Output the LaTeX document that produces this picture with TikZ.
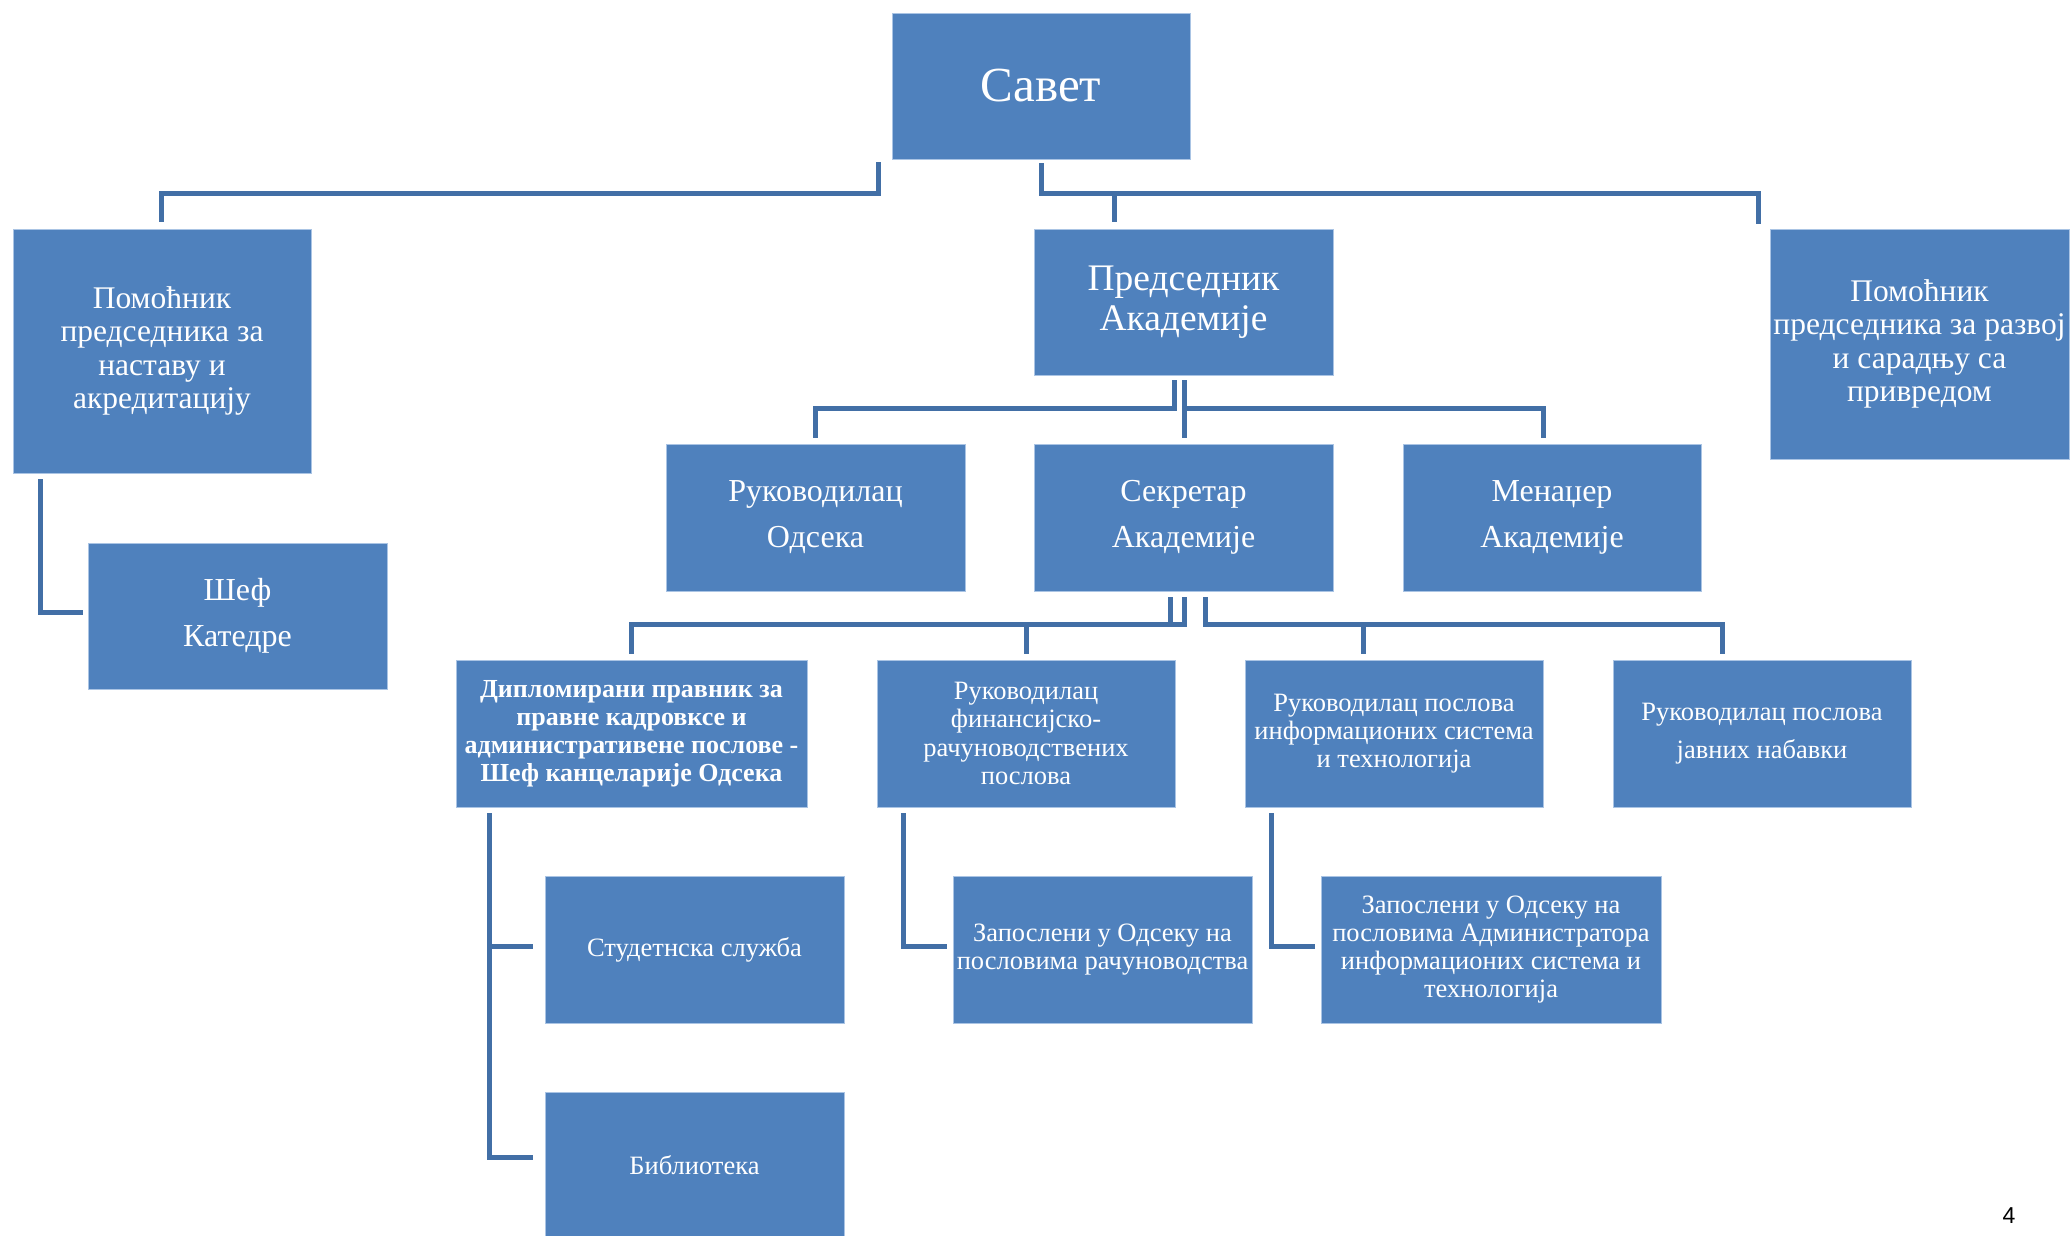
\documentclass[tikz,border=0pt]{standalone}
\usepackage{fontspec}
\setmainfont{Liberation Serif}
\newfontfamily\arialf{Liberation Sans}
\definecolor{boxblue}{RGB}{79,129,189}
\definecolor{boxedge}{RGB}{170,196,228}
\definecolor{linecol}{RGB}{66,111,166}
\tikzset{
  orgbox/.style={fill=boxblue, draw=boxedge, line width=1pt, text=white, inner sep=0pt, align=center},
  conn/.style={draw=linecol, line width=5pt, line cap=butt, line join=miter},
  fbig/.style={font=\fontsize{49}{53}\selectfont},
  fpred/.style={font=\fontsize{37.5}{40}\selectfont},
  fpom/.style={font=\fontsize{31.5}{33.5}\selectfont},
  frow/.style={font=\fontsize{32}{46}\selectfont},
  fsmall/.style={font=\fontsize{26.5}{28.3}\selectfont},
  fsmallbold/.style={font=\fontsize{26}{28}\selectfont\bfseries},
  fwide/.style={font=\fontsize{26.5}{38}\selectfont}
}
\begin{document}
\begin{tikzpicture}[x=1pt,y=-1pt]
\useasboundingbox (0,0) rectangle (2071,1235);
% boxes
\node[orgbox, fbig, minimum width=298, minimum height=146] (savet) at (1041,86) {Савет};
\node[orgbox, fpom, minimum width=298, minimum height=244] (pomL) at (162,351) {Помоћник\\председника за\\наставу и\\акредитацију};
\node[orgbox, fpred, minimum width=299, minimum height=146] (pred) at (1183.5,302) {Председник\\Академије};
\node[orgbox, fpom, minimum width=299, minimum height=230] (pomR) at (1919.5,344) {Помоћник\\председника за развој\\и сарадњу са\\привредом};
\node[orgbox, frow, minimum width=299, minimum height=147] (rukO) at (815.5,517.5) {Руководилац\\Одсека};
\node[orgbox, frow, minimum width=299, minimum height=147] (sekr) at (1183.5,517.5) {Секретар\\Академије};
\node[orgbox, frow, minimum width=298, minimum height=147] (men) at (1552,517.5) {Менаџер\\Академије};
\node[orgbox, frow, minimum width=299, minimum height=146] (shef) at (237.5,616) {Шеф\\Катедре};
\node[orgbox, fsmallbold, minimum width=351, minimum height=147] (dipl) at (631.5,733.5) {Дипломирани правник за\\правне кадровксе и\\административене послове -\\Шеф канцеларије Одсека};
\node[orgbox, fsmall, minimum width=298, minimum height=147] (fin) at (1026,733.5) {Руководилац\\финансијско-\\рачуноводствених\\послова};
\node[orgbox, fsmall, minimum width=298, minimum height=147] (is) at (1394,733.5) {Руководилац послова\\информационих система\\и технологија};
\node[orgbox, fwide, minimum width=298, minimum height=147] (jn) at (1762,733.5) {Руководилац послова\\јавних набавки};
\node[orgbox, fsmall, minimum width=299, minimum height=147] (stud) at (694.5,949.5) {Студетнска служба};
\node[orgbox, fsmall, minimum width=299, minimum height=147] (zrac) at (1102.5,949.5) {Запослени у Одсеку на\\пословима рачуноводства};
\node[orgbox, fsmall, minimum width=340, minimum height=147] (zadm) at (1491,949.5) {Запослени у Одсеку на\\пословима Администратора\\информационих система и\\технологија};
\node[orgbox, fsmall, minimum width=299, minimum height=146] (bib) at (694.5,1165) {Библиотека};
\node[font=\arialf\fontsize{23}{25}\selectfont, inner sep=0pt] (pnum) at (2009,1216) {4};
% connector end points
\coordinate (sA) at (878,162);
\coordinate (sB) at (1041,163);
\coordinate (jP) at (1114,193);
\coordinate (inPomL) at (161,222);
\coordinate (inPred) at (1114,222);
\coordinate (inPomR) at (1758,224);
\coordinate (pA) at (1174,380);
\coordinate (pB) at (1184,380);
\coordinate (jPB) at (1184,408);
\coordinate (inRukO) at (815,438);
\coordinate (inSekr) at (1184,438);
\coordinate (inMen) at (1543,438);
\coordinate (kA) at (1170,597);
\coordinate (kB) at (1184,597);
\coordinate (kC) at (1205,597);
\coordinate (jIS) at (1363,624);
\coordinate (inDipl) at (631,654);
\coordinate (inFin) at (1026,654);
\coordinate (inIS) at (1363,654);
\coordinate (inJN) at (1722,654);
\coordinate (shA) at (40,479);
\coordinate (inShef) at (83,612);
\coordinate (dA) at (489,813);
\coordinate (dJ) at (489,946);
\coordinate (inStud) at (533,946);
\coordinate (inBib) at (533,1157);
\coordinate (fA) at (903,813);
\coordinate (inZrac) at (947,946);
\coordinate (iA) at (1271,813);
\coordinate (inZadm) at (1315,946);
% connectors
\draw[conn] (sA) -- ++(0,31) -| (inPomL);
\draw[conn] (sB) -- ++(0,30) -| (inPomR);
\draw[conn] (jP) -- (inPred);
\draw[conn] (pA) -- ++(0,28) -| (inRukO);
\draw[conn] (pB) -- (inSekr);
\draw[conn] (jPB) -| (inMen);
\draw[conn] (kA) -- ++(0,27) -| (inDipl);
\draw[conn] (kB) -- ++(0,27) -| (inFin);
\draw[conn] (kC) -- ++(0,27) -| (inJN);
\draw[conn] (jIS) -- (inIS);
\draw[conn] (shA) |- (inShef);
\draw[conn] (dA) |- (inBib);
\draw[conn] (dJ) -- (inStud);
\draw[conn] (fA) |- (inZrac);
\draw[conn] (iA) |- (inZadm);
\end{tikzpicture}
\end{document}
